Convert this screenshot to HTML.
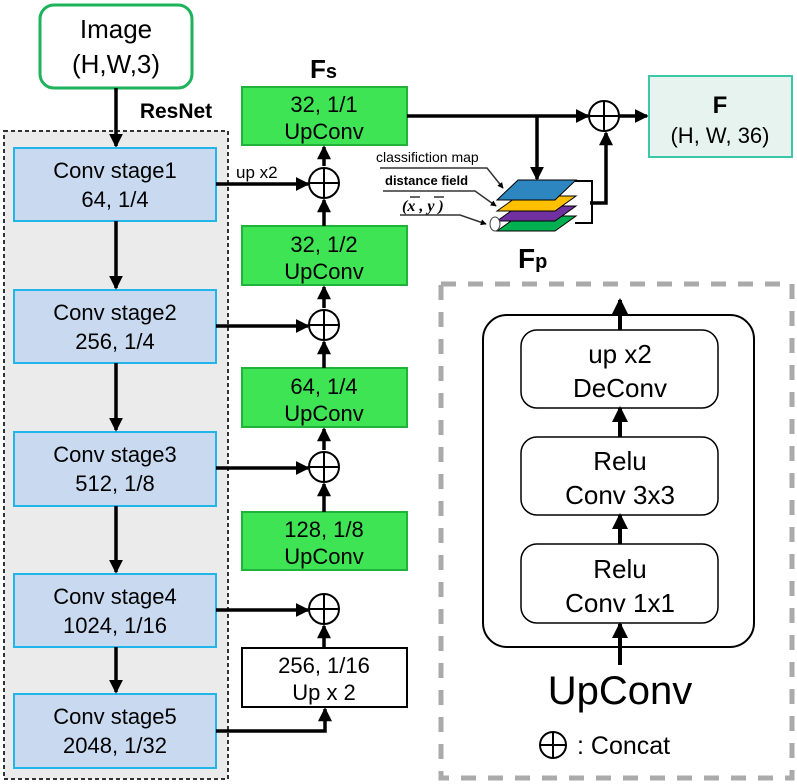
<!DOCTYPE html>
<html><head><meta charset="utf-8"><style>html,body{margin:0;padding:0;background:#fff}svg{display:block}</style></head>
<body>
<svg width="797" height="784" viewBox="0 0 797 784" xmlns="http://www.w3.org/2000/svg" font-family="Liberation Sans, DejaVu Sans, sans-serif">
<defs>
<marker id="a" markerWidth="4" markerHeight="4" refX="3.5" refY="2" orient="auto" markerUnits="strokeWidth"><path d="M0,0 L4,2 L0,4 Z" fill="#000"/></marker>
<marker id="b" markerWidth="4" markerHeight="4" refX="3.5" refY="2" orient="auto" markerUnits="strokeWidth"><path d="M0,0 L4,2 L0,4 Z" fill="#000"/></marker>
</defs>
<!-- ResNet region -->
<rect x="4" y="131" width="224" height="648" fill="#ebebeb" stroke="#333" stroke-width="2" stroke-dasharray="4,3"/>
<rect x="40" y="5" width="152" height="83" rx="14" fill="#fff" stroke="#1db35a" stroke-width="3"/>
<text x="116" y="38" font-size="26" text-anchor="middle">Image</text>
<text x="116" y="73" font-size="26" text-anchor="middle">(H,W,3)</text>
<text x="176" y="118" font-size="21" font-weight="bold" text-anchor="middle">ResNet</text>
<line x1="116" y1="88" x2="116" y2="146" stroke="#000" stroke-width="3.5" marker-end="url(#a)"/>
<g fill="#c9daf0" stroke="#22b5ea" stroke-width="2">
<rect x="14" y="148" width="202" height="73"/>
<rect x="14" y="290" width="202" height="73"/>
<rect x="14" y="432" width="202" height="74"/>
<rect x="14" y="574" width="202" height="73"/>
<rect x="14" y="694" width="202" height="74"/>
</g>
<g font-size="22" text-anchor="middle">
<text x="115" y="178">Conv stage1</text><text x="115" y="207">64, 1/4</text>
<text x="115" y="320">Conv stage2</text><text x="115" y="349">256, 1/4</text>
<text x="115" y="462">Conv stage3</text><text x="115" y="491">512, 1/8</text>
<text x="115" y="604">Conv stage4</text><text x="115" y="633">1024, 1/16</text>
<text x="115" y="724">Conv stage5</text><text x="115" y="753">2048, 1/32</text>
</g>
<g stroke="#000" stroke-width="3.5" marker-end="url(#a)">
<line x1="116" y1="221" x2="116" y2="288"/>
<line x1="116" y1="363" x2="116" y2="430"/>
<line x1="116" y1="506" x2="116" y2="572"/>
<line x1="116" y1="647" x2="116" y2="692"/>
</g>
<!-- green boxes -->
<g fill="#3ee454" stroke="#1fb33a" stroke-width="2">
<rect x="242" y="87" width="165" height="58"/>
<rect x="242" y="226" width="165" height="59"/>
<rect x="242" y="368" width="165" height="59"/>
<rect x="242" y="512" width="165" height="58"/>
</g>
<rect x="242" y="648" width="165" height="59" fill="#fff" stroke="#000" stroke-width="2"/>
<g font-size="22" text-anchor="middle">
<text x="324" y="112">32, 1/1</text><text x="324" y="139">UpConv</text>
<text x="324" y="252">32, 1/2</text><text x="324" y="279">UpConv</text>
<text x="324" y="394">64, 1/4</text><text x="324" y="421">UpConv</text>
<text x="324" y="537">128, 1/8</text><text x="324" y="564">UpConv</text>
<text x="324" y="673">256, 1/16</text><text x="324" y="700">Up x 2</text>
</g>
<text x="310" y="78" font-size="26" font-weight="bold">F<tspan font-size="20">s</tspan></text>
<!-- concat circles -->
<g fill="#fff" stroke="#000" stroke-width="2">
<circle cx="324" cy="183" r="15"/><circle cx="324" cy="325" r="15"/>
<circle cx="324" cy="467" r="15"/><circle cx="324" cy="609" r="15"/>
<circle cx="604" cy="116" r="15"/>
</g>
<g stroke="#000" stroke-width="2">
<line x1="309" y1="183" x2="339" y2="183"/><line x1="324" y1="168" x2="324" y2="198"/>
<line x1="309" y1="325" x2="339" y2="325"/><line x1="324" y1="310" x2="324" y2="340"/>
<line x1="309" y1="467" x2="339" y2="467"/><line x1="324" y1="452" x2="324" y2="482"/>
<line x1="309" y1="609" x2="339" y2="609"/><line x1="324" y1="594" x2="324" y2="624"/>
<line x1="589" y1="116" x2="619" y2="116"/><line x1="604" y1="101" x2="604" y2="131"/>
</g>
<text x="236" y="178" font-size="17">up x2</text>
<g stroke="#000" stroke-width="3.5" fill="none" marker-end="url(#a)">
<line x1="216" y1="184" x2="308" y2="184"/>
<line x1="216" y1="326" x2="308" y2="326"/>
<line x1="216" y1="468" x2="308" y2="468"/>
<line x1="216" y1="610" x2="308" y2="610"/>
<polyline points="216,731 325,731 325,709"/>
<line x1="324" y1="648" x2="324" y2="626"/>
<line x1="324" y1="512" x2="324" y2="484"/>
<line x1="324" y1="450" x2="324" y2="429"/>
<line x1="324" y1="368" x2="324" y2="342"/>
<line x1="324" y1="308" x2="324" y2="287"/>
<line x1="324" y1="226" x2="324" y2="200"/>
<line x1="324" y1="166" x2="324" y2="147"/>
<line x1="407" y1="116" x2="588" y2="116"/>
<line x1="619" y1="116" x2="647" y2="116"/>
<line x1="537" y1="116" x2="537" y2="179"/>
<polyline points="590,203 606,203 606,133"/>
</g>
<!-- F box -->
<rect x="649" y="76" width="143" height="81" fill="#e6f3ee" stroke="#3cc8a8" stroke-width="2"/>
<text x="720" y="113" font-size="24" font-weight="bold" text-anchor="middle">F</text>
<text x="720" y="143" font-size="22" text-anchor="middle">(H, W, 36)</text>
<!-- Fp stack -->
<polyline points="575,181 592,181 592,223 575,223" fill="none" stroke="#000" stroke-width="2"/>
<polygon points="497,231 518,216 576,216 555,231" fill="#00b050" stroke="#000" stroke-width="1"/>
<polygon points="497,221 518,206 576,206 555,221" fill="#7030a0" stroke="#000" stroke-width="1"/>
<polygon points="497,211 518,196 576,196 555,211" fill="#ffc000" stroke="#000" stroke-width="1"/>
<polygon points="497,200 518,180 576,180 555,200" fill="#2e86c1" stroke="#000" stroke-width="1"/>
<ellipse cx="495" cy="224" rx="5" ry="7" fill="#fff" stroke="#444" stroke-width="1"/>
<text x="518" y="268" font-size="28" font-weight="bold">F<tspan font-size="20">p</tspan></text>
<text x="376" y="162" font-size="14">classifiction map</text>
<text x="385" y="185" font-size="13" font-weight="bold">distance field</text>
<text x="402" y="211" font-size="16" font-style="italic" font-family="Liberation Serif, serif" font-weight="bold">(x , y )</text>
<g stroke="#000" stroke-width="1.2"><line x1="410" y1="197" x2="420" y2="197"/><line x1="434" y1="197" x2="444" y2="197"/></g>
<g stroke="#333" stroke-width="1.5" fill="none" marker-end="url(#b)">
<polyline points="380,168 487,168 503,188"/>
<polyline points="383,191 475,191 496,206"/>
<polyline points="400,215 460,215 486,224"/>
</g>
<!-- detail box -->
<rect x="441" y="284" width="351" height="494" fill="none" stroke="#aaa" stroke-width="5" stroke-dasharray="15,12"/>
<rect x="483" y="315" width="271" height="332" rx="24" fill="#fff" stroke="#000" stroke-width="2"/>
<g fill="#fff" stroke="#000" stroke-width="1.5">
<rect x="521" y="330" width="197" height="78" rx="16"/>
<rect x="521" y="437" width="197" height="78" rx="16"/>
<rect x="521" y="544" width="197" height="79" rx="16"/>
</g>
<g font-size="26" text-anchor="middle">
<text x="620" y="363">up x2</text><text x="620" y="397">DeConv</text>
<text x="620" y="470">Relu</text><text x="620" y="504">Conv 3x3</text>
<text x="620" y="578">Relu</text><text x="620" y="612">Conv 1x1</text>
</g>
<g stroke="#000" stroke-width="4" marker-end="url(#a)">
<line x1="620" y1="330" x2="620" y2="300"/>
<line x1="620" y1="437" x2="620" y2="408"/>
<line x1="620" y1="544" x2="620" y2="515"/>
<line x1="620" y1="665" x2="620" y2="624"/>
</g>
<text x="620" y="704" font-size="40" text-anchor="middle">UpConv</text>
<circle cx="553" cy="745" r="13" fill="none" stroke="#000" stroke-width="2"/>
<line x1="540" y1="745" x2="566" y2="745" stroke="#000" stroke-width="2"/>
<line x1="553" y1="732" x2="553" y2="758" stroke="#000" stroke-width="2"/>
<text x="577" y="754" font-size="25">: Concat</text>
</svg>
</body></html>
